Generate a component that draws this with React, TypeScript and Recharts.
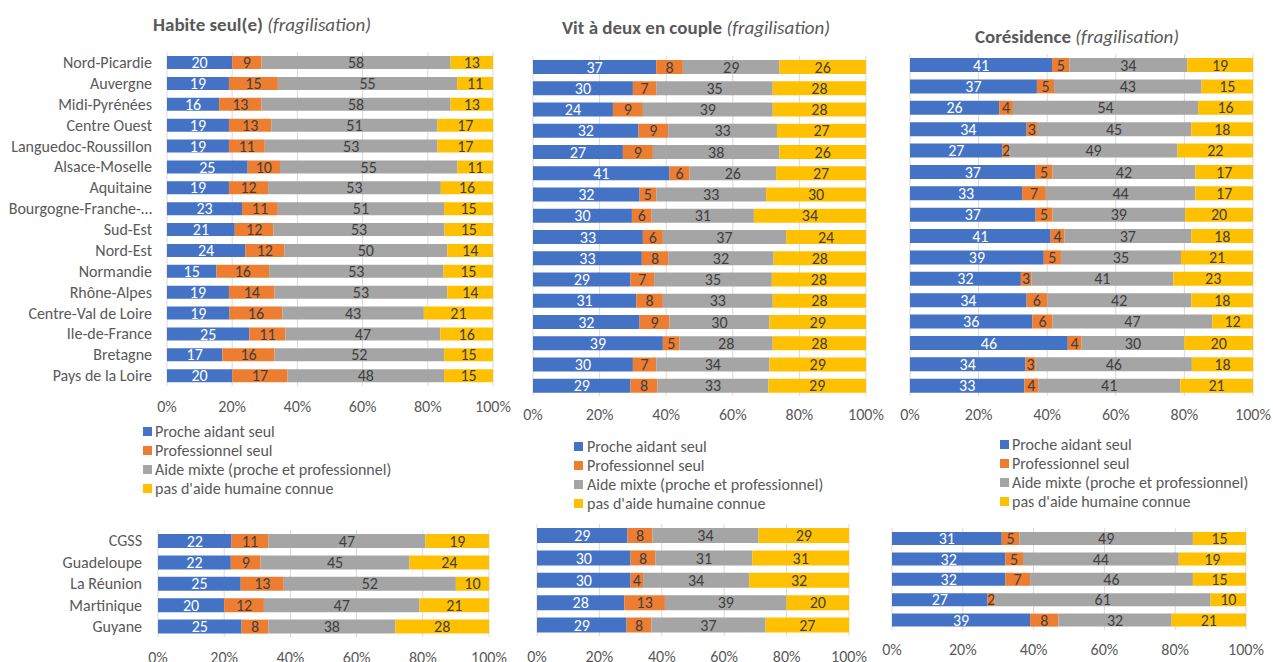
import React from 'react'
import { BarChart, Bar, XAxis, YAxis, CartesianGrid, LabelList } from 'recharts'

// --- categories ---
const regions = ['Nord-Picardie', 'Auvergne', 'Midi-Pyrénées', 'Centre Ouest', 'Languedoc-Roussillon', 'Alsace-Moselle', 'Aquitaine', 'Bourgogne-Franche-…', 'Sud-Est', 'Nord-Est', 'Normandie', 'Rhône-Alpes', 'Centre-Val de Loire', 'Ile-de-France', 'Bretagne', 'Pays de la Loire']
const outreMer = ['CGSS', 'Guadeloupe', 'La Réunion', 'Martinique', 'Guyane']

const seriesNames = ['Proche aidant seul', 'Professionnel seul', 'Aide mixte (proche et professionnel)', "pas d'aide humaine connue"]
const seriesColors = ['#4472C4', '#ED7D31', '#A5A5A5', '#FFC000']

// --- Habite seul(e) ---
const seulProche = [20, 19, 16, 19, 19, 25, 19, 23, 21, 24, 15, 19, 19, 25, 17, 20]
const seulPro = [9, 15, 13, 13, 11, 10, 12, 11, 12, 12, 16, 14, 16, 11, 16, 17]
const seulMixte = [58, 55, 58, 51, 53, 55, 53, 51, 53, 50, 53, 53, 43, 47, 52, 48]
const seulAucune = [13, 11, 13, 17, 17, 11, 16, 15, 15, 14, 15, 14, 21, 16, 15, 15]

// --- Vit à deux en couple ---
const coupleProche = [37, 30, 24, 32, 27, 41, 32, 30, 33, 33, 29, 31, 32, 39, 30, 29]
const couplePro = [8, 7, 9, 9, 9, 6, 5, 6, 6, 8, 7, 8, 9, 5, 7, 8]
const coupleMixte = [29, 35, 39, 33, 38, 26, 33, 31, 37, 32, 35, 33, 30, 28, 34, 33]
const coupleAucune = [26, 28, 28, 27, 26, 27, 30, 34, 24, 28, 28, 28, 29, 28, 29, 29]

// --- Corésidence ---
const coresProche = [41, 37, 26, 34, 27, 37, 33, 37, 41, 39, 32, 34, 36, 46, 34, 33]
const coresPro = [5, 5, 4, 3, 2, 5, 7, 5, 4, 5, 3, 6, 6, 4, 3, 4]
const coresMixte = [34, 43, 54, 45, 49, 42, 44, 39, 37, 35, 41, 42, 47, 30, 46, 41]
const coresAucune = [19, 15, 16, 18, 22, 17, 17, 20, 18, 21, 23, 18, 12, 20, 18, 21]

// --- Outre-mer ---
const domSeulProche = [22, 22, 25, 20, 25]
const domSeulPro = [11, 9, 13, 12, 8]
const domSeulMixte = [47, 45, 52, 47, 38]
const domSeulAucune = [19, 24, 10, 21, 28]

const domCoupleProche = [29, 30, 30, 28, 29]
const domCouplePro = [8, 8, 4, 13, 8]
const domCoupleMixte = [34, 31, 34, 39, 37]
const domCoupleAucune = [29, 31, 32, 20, 27]

const domCoresProche = [31, 32, 32, 27, 39]
const domCoresPro = [5, 5, 7, 2, 8]
const domCoresMixte = [49, 44, 46, 61, 32]
const domCoresAucune = [15, 19, 15, 10, 21]

const pctTicks = [0, 0.2, 0.4, 0.6, 0.8, 1]

const FONT = 'Carlito, Calibri, Lato, "Noto Sans", sans-serif'
const TXT = '#595959'
const FS = 16

function build(cats: string[], cols: number[][]) {
  return cats.map((c, i) => ({ name: c, s0: cols[0][i], s1: cols[1][i], s2: cols[2][i], s3: cols[3][i] }))
}

function Panel({ data, x0, x1, y0, y1, yW, labelMargin, barSize, tickMargin }: any) {
  const xH = 30
  const ml = 25
  const left = x0 - yW - ml
  const top = y0 - 5
  const width = x1 - left + 25
  const height = y1 - top + xH + 5
  return (
    <div style={{ position: 'absolute', left, top }}>
      <BarChart width={width} height={height} data={data} layout="vertical" stackOffset="expand"
        margin={{ top: 5, left: ml, right: 25, bottom: 5 }}>
        <CartesianGrid horizontal={false} stroke="#D9D9D9" />
        <XAxis type="number" domain={[0, 1]} ticks={pctTicks} axisLine={false} tickLine={false} height={xH}
          tickMargin={tickMargin} interval={0}
          tickFormatter={(v: number) => Math.round(v * 100) + '%'}
          tick={{ fill: TXT, fontSize: FS, fontFamily: FONT }} />
        {yW > 0 ? (
          <YAxis type="category" dataKey="name" width={yW} axisLine={false} tickLine={false} tickSize={0}
            tickMargin={labelMargin} interval={0} tick={{ fill: TXT, fontSize: FS, fontFamily: FONT }} />
        ) : (
          <YAxis type="category" dataKey="name" hide />
        )}
        {['s0', 's1', 's2', 's3'].map((k, i) => (
          <Bar key={k} dataKey={k} stackId="a" fill={seriesColors[i]} barSize={barSize} isAnimationActive={false}>
            <LabelList dataKey={k} position="center" fill={i === 0 ? '#FFFFFF' : '#404040'} fontSize={FS} fontFamily={FONT} />
          </Bar>
        ))}
      </BarChart>
    </div>
  )
}

function Title({ bold, cx, cy }: any) {
  return (
    <div style={{ position: 'absolute', left: cx - 200, top: cy - 12, width: 400, textAlign: 'center', fontSize: 19, lineHeight: '24px', color: TXT, fontFamily: FONT, whiteSpace: 'nowrap' }}>
      <b>{bold}</b> <i>(fragilisation)</i>
    </div>
  )
}

function Legend({ x, y, textX }: any) {
  return (
    <div style={{ position: 'absolute', left: x, top: y - 9.5, fontFamily: FONT, fontSize: 16, color: TXT }}>
      {seriesNames.map((n, i) => (
        <div key={n} style={{ height: 19, lineHeight: '19px', display: 'flex', alignItems: 'center', whiteSpace: 'nowrap' }}>
          <span style={{ display: 'inline-block', width: 9, height: 9, background: seriesColors[i], marginRight: textX - 9 }} />
          {n}
        </div>
      ))}
    </div>
  )
}

export default function App() {
  const p1 = build(regions, [seulProche, seulPro, seulMixte, seulAucune])
  const p2 = build(regions, [coupleProche, couplePro, coupleMixte, coupleAucune])
  const p3 = build(regions, [coresProche, coresPro, coresMixte, coresAucune])
  const b1 = build(outreMer, [domSeulProche, domSeulPro, domSeulMixte, domSeulAucune])
  const b2 = build(outreMer, [domCoupleProche, domCouplePro, domCoupleMixte, domCoupleAucune])
  const b3 = build(outreMer, [domCoresProche, domCoresPro, domCoresMixte, domCoresAucune])
  return (
    <div style={{ position: 'absolute', left: 0, top: 0, width: 1273, height: 662, background: '#fff', overflow: 'hidden', fontFamily: FONT }}>
      <Title bold="Habite seul(e)" cx={262} cy={25} />
      <Title bold="Vit à deux en couple" cx={696} cy={28} />
      <Title bold="Corésidence" cx={1077} cy={37} />

      <Panel data={p1} x0={167} x1={493} y0={52} y1={386} yW={140} labelMargin={15} barSize={13} tickMargin={9} />
      <Panel data={p2} x0={533} x1={866} y0={56} y1={396} yW={0} barSize={14} tickMargin={7} />
      <Panel data={p3} x0={910} x1={1253} y0={54} y1={396} yW={0} barSize={14} tickMargin={7} />

      <Legend x={143} y={431} textX={12} />
      <Legend x={574} y={446} textX={13} />
      <Legend x={1000} y={444} textX={12} />

      <Panel data={b1} x0={158} x1={489} y0={530} y1={637} yW={130} labelMargin={16} barSize={14} tickMargin={9} />
      <Panel data={b2} x0={537} x1={849} y0={524} y1={636} yW={0} barSize={15} tickMargin={9} />
      <Panel data={b3} x0={892} x1={1246} y0={528} y1={630} yW={0} barSize={13} tickMargin={8} />
    </div>
  )
}
